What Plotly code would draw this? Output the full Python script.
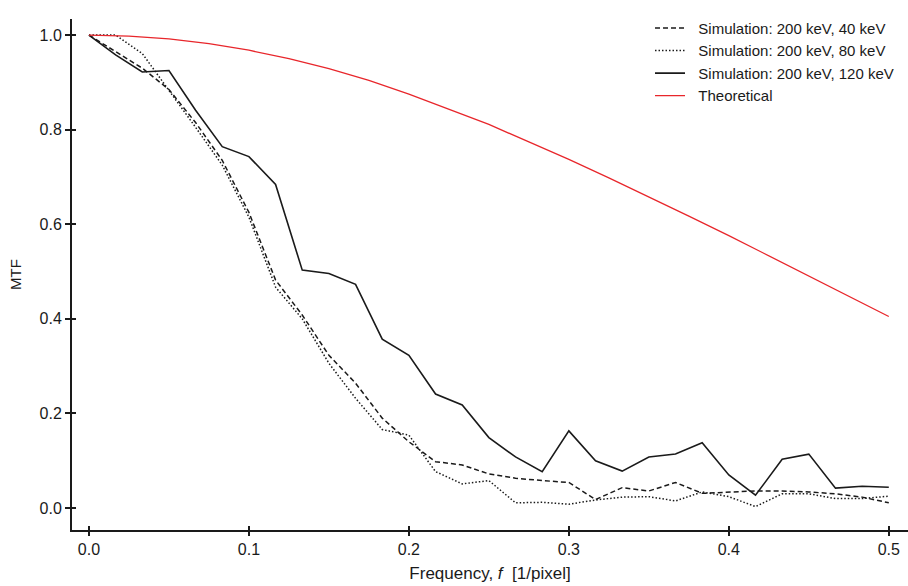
import plotly.graph_objects as go

# Spatial frequency samples (1/pixel), step 1/60
freq = [k / 60 for k in range(31)]

mtf_40kev = [1.000, 0.965, 0.930, 0.885, 0.815, 0.735, 0.625, 0.482, 0.408, 0.323,
             0.264, 0.190, 0.140, 0.098, 0.091, 0.072, 0.063, 0.058, 0.054, 0.018,
             0.043, 0.036, 0.054, 0.031, 0.033, 0.036, 0.036, 0.034, 0.030, 0.023, 0.011]

mtf_80kev = [1.000, 1.000, 0.961, 0.884, 0.805, 0.725, 0.615, 0.467, 0.400, 0.306,
             0.232, 0.166, 0.154, 0.077, 0.051, 0.058, 0.011, 0.012, 0.008, 0.017,
             0.023, 0.024, 0.015, 0.034, 0.024, 0.003, 0.030, 0.030, 0.020, 0.020, 0.025]

mtf_120kev = [1.000, 0.958, 0.922, 0.925, 0.841, 0.764, 0.743, 0.684, 0.503, 0.496,
              0.473, 0.357, 0.323, 0.241, 0.218, 0.149, 0.108, 0.077, 0.163, 0.100,
              0.078, 0.108, 0.114, 0.138, 0.070, 0.027, 0.103, 0.114, 0.042, 0.046, 0.044]

theory_freq = [0.000, 0.025, 0.050, 0.075, 0.100, 0.125, 0.150, 0.175, 0.200, 0.225,
               0.250, 0.275, 0.300, 0.325, 0.350, 0.375, 0.400, 0.425, 0.450, 0.475, 0.500]
mtf_theory = [1.000, 0.998, 0.992, 0.982, 0.968, 0.950, 0.929, 0.904, 0.875, 0.843,
              0.811, 0.774, 0.737, 0.698, 0.658, 0.617, 0.576, 0.533, 0.491, 0.448, 0.405]

x_ticks = [0.0, 0.1, 0.2, 0.3, 0.4, 0.5]
y_ticks = [0.0, 0.2, 0.4, 0.6, 0.8, 1.0]

FONT = "Liberation Sans, Arial, sans-serif"
INK = "#1a1a1a"
GAP = "&nbsp;&nbsp;"  # extra space between legend sample and label

fig = go.Figure()
fig.add_trace(go.Scatter(x=freq, y=mtf_40kev, mode="lines",
                         name=GAP + "Simulation: 200 keV, 40 keV",
                         line=dict(color=INK, width=1.5, dash="5px,3px")))
fig.add_trace(go.Scatter(x=freq, y=mtf_80kev, mode="lines",
                         name=GAP + "Simulation: 200 keV, 80 keV",
                         line=dict(color=INK, width=1.5, dash="1.5px,2px")))
fig.add_trace(go.Scatter(x=freq, y=mtf_120kev, mode="lines",
                         name=GAP + "Simulation: 200 keV, 120 keV",
                         line=dict(color=INK, width=1.6)))
fig.add_trace(go.Scatter(x=theory_freq, y=mtf_theory, mode="lines",
                         name=GAP + "Theoretical",
                         line=dict(color="#e8262b", width=1.3)))
# helper trace so the inward tick axes are rendered
fig.add_trace(go.Scatter(x=[0], y=[0], xaxis="x2", yaxis="y2", mode="markers",
                         marker=dict(opacity=0), showlegend=False, hoverinfo="skip"))

xr = [-0.0106, 0.512]
yr = [-0.0465, 1.034]

axis_common = dict(showgrid=False, zeroline=False,
                   tickfont=dict(family=FONT, size=16, color=INK))

fig.update_layout(
    width=908, height=586,
    margin=dict(l=72, r=0, t=19, b=56),
    paper_bgcolor="white", plot_bgcolor="white",
    font=dict(family=FONT, color=INK),
    xaxis=dict(range=xr, tickvals=x_ticks, ticktext=[f"{v:.1f}" for v in x_ticks],
               showline=True, linecolor=INK, linewidth=2,
               ticks="outside", ticklen=4, tickwidth=1.5, tickcolor=INK,
               title=dict(text="Frequency, <i>f</i>  [1/pixel]",
                          font=dict(family=FONT, size=17, color=INK), standoff=10),
               **axis_common),
    yaxis=dict(range=yr, tickvals=y_ticks, ticktext=[f"{v:.1f}" for v in y_ticks],
               showline=True, linecolor=INK, linewidth=2,
               ticks="outside", ticklen=5, tickwidth=1.5, tickcolor=INK,
               title=dict(text="MTF", font=dict(family=FONT, size=15, color=INK), standoff=14),
               **axis_common),
    xaxis2=dict(overlaying="x", range=xr, tickvals=x_ticks, showticklabels=False,
                ticks="inside", ticklen=4, tickwidth=1.5, tickcolor=INK,
                showline=False, showgrid=False, zeroline=False, side="bottom"),
    yaxis2=dict(overlaying="y", range=yr, tickvals=y_ticks, showticklabels=False,
                ticks="inside", ticklen=4, tickwidth=1.5, tickcolor=INK,
                showline=False, showgrid=False, zeroline=False, side="left"),
    legend=dict(x=0.6914, y=1.014, xanchor="left", yanchor="top",
                bgcolor="rgba(0,0,0,0)", font=dict(family=FONT, size=15, color=INK),
                itemwidth=30, tracegroupgap=0),
    showlegend=True,
)

fig.write_html("out.html")
